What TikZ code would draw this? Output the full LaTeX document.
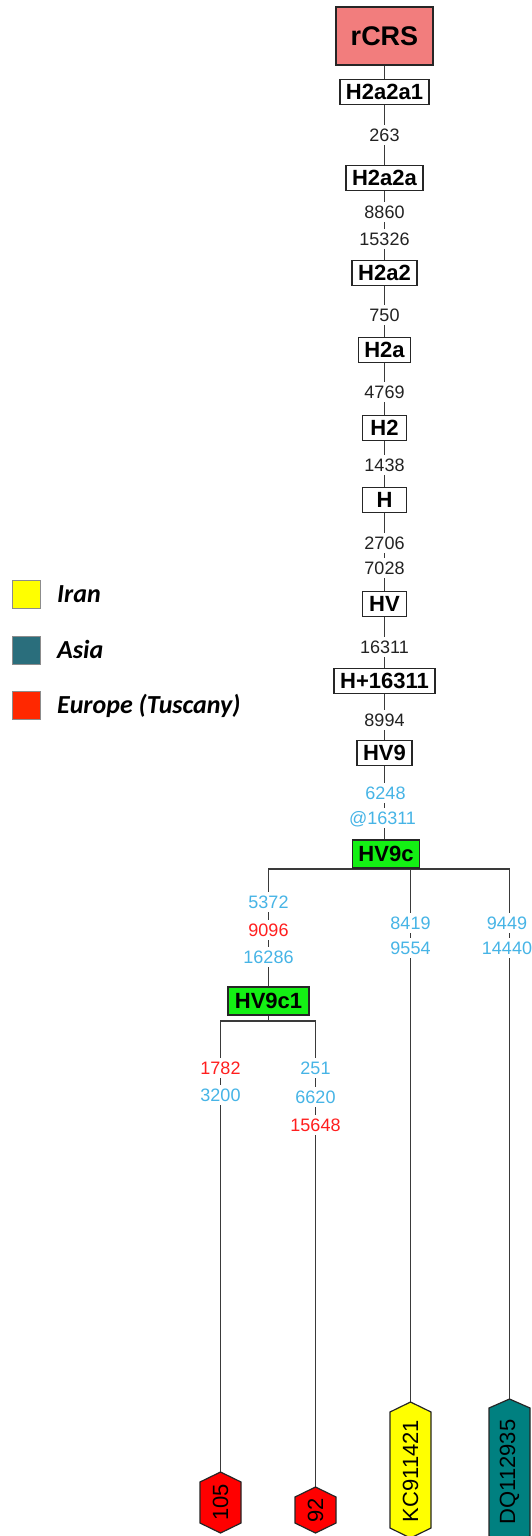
\documentclass[tikz,border=0pt]{standalone}
\usepackage{fontspec}
\setmainfont{Liberation Sans}
\newfontfamily\legfont{Carlito}
\usetikzlibrary{backgrounds,calc}

\definecolor{linec}{HTML}{3A3A3A}
\definecolor{mblue}{RGB}{70,180,230}
\definecolor{mred}{RGB}{255,30,30}
\definecolor{mblack}{HTML}{222222}
\definecolor{rcrsfill}{RGB}{242,125,125}
\definecolor{gfill}{RGB}{20,240,20}
\definecolor{hexred}{RGB}{255,0,0}
\definecolor{hexyel}{RGB}{255,255,0}
\definecolor{hexteal}{RGB}{0,128,128}
\definecolor{legyel}{RGB}{255,255,0}
\definecolor{legteal}{RGB}{42,110,124}
\definecolor{legred}{RGB}{255,40,0}

\newcommand\myhex[7]{% name, x, top, side top, side bottom, bottom, fill
  \filldraw[fill=#7, draw=black!85, line width=1.2pt]
    (#2,#3) -- (#2+20.5,#4) -- (#2+20.5,#5) -- (#2,#6) -- (#2-20.5,#5) -- (#2-20.5,#4) -- cycle;
  \coordinate (#1) at (#2,#3);
}

\begin{document}
\begin{tikzpicture}[x=1pt,y=-1pt,
  hbox/.style={draw=black!85, line width=1.6pt, fill=white,
    font=\fontsize{22}{24}\selectfont\bfseries,
    minimum height=25pt, minimum width=44pt, inner xsep=6pt, inner ysep=0pt},
  gbox/.style={hbox, fill=gfill, minimum height=28pt},
  mut/.style={fill=white, inner xsep=1pt, inner ysep=3.5pt, text height=13pt,
    text depth=0pt, font=\fontsize{18}{20}\selectfont},
  mk/.style={mut, text=mblack},
  mb/.style={mut, text=mblue},
  mr/.style={mut, text=mred},
  conn/.style={draw=linec, line width=1.5pt},
  hextext/.style={rotate=90, inner sep=0pt, font=\fontsize{22}{24}\selectfont, text=black},
  legsq/.style={draw=black!45, line width=0.8pt, minimum size=28pt, inner sep=0pt},
  legtxt/.style={anchor=base west, inner sep=0pt,
    font=\legfont\fontsize{26}{28}\selectfont\bfseries\itshape}
]
\useasboundingbox (0,0) rectangle (531,1536);

% haplogroup boxes
\node[hbox, fill=rcrsfill, font=\fontsize{27}{30}\selectfont\bfseries,
      minimum width=97pt, minimum height=58pt] (rcrs) at (384.5,36) {rCRS};
\node[hbox] (h2a2a1) at (384.5,92) {H2a2a1};
\node[hbox] (h2a2a) at (384.5,178) {H2a2a};
\node[hbox] (h2a2) at (384.5,273) {H2a2};
\node[hbox] (h2a) at (384.5,350) {H2a};
\node[hbox] (h2) at (384.5,428) {H2};
\node[hbox] (h) at (384.5,500) {H};
\node[hbox] (hv) at (384.5,604) {HV};
\node[hbox] (h16311) at (384.5,681) {H+16311};
\node[hbox] (hv9) at (384.5,753) {HV9};
\node[gbox] (hv9c) at (386,854) {HV9c};
\node[gbox, inner xsep=7pt] (hv9c1) at (268.5,1001) {HV9c1};

% tip hexagons
\myhex{t105}{220.5}{1472}{1482}{1523}{1533}{hexred}
\node[hextext] (n105) at (220.5,1502.5) {105};
\myhex{t92}{315.5}{1487}{1497}{1523}{1533}{hexred}
\node[hextext] (n92) at (315.5,1510) {92};
\myhex{tkc}{410.5}{1402}{1412}{1528}{1538}{hexyel}
\node[hextext] (nkc) at (410.5,1471) {KC911421};
\myhex{tdq}{509.5}{1399}{1408}{1536}{1545}{hexteal}
\node[hextext] (ndq) at (509.5,1472) {DQ112935};

\coordinate (j1) at ([yshift=-5pt]hv9c1.south);
\coordinate (j0) at (hv9c.south);

% connectors
\begin{scope}[on background layer]
\draw[conn] (rcrs) -- (h2a2a1) -- (h2a2a) -- (h2a2) -- (h2a) -- (h2) -- (h)
  -- (hv) -- (h16311) -- (hv9) -- (hv9.south |- hv9c.north);
\draw[conn] (hv9c.south) -| (hv9c1.north);
\draw[conn] (hv9c.south) -| (tkc);
\draw[conn] (hv9c.south) -| (tdq);
\draw[conn] (hv9c1.south) -- (j1) -| (t105);
\draw[conn] (j1) -| (t92);
\end{scope}

% mutations
\node[mk] (m263) at (384.5,135) {263};
\node[mk] (m8860) at (384.5,212) {8860};
\node[mk] (m15326) at (384.5,239) {15326};
\node[mk] (m750) at (384.5,315) {750};
\node[mk] (m4769) at (384.5,392) {4769};
\node[mk] (m1438) at (384.5,465) {1438};
\node[mk] (m2706) at (384.5,543) {2706};
\node[mk] (m7028) at (384.5,568) {7028};
\node[mk] (m16311) at (384.5,647) {16311};
\node[mk] (m8994) at (384.5,720) {8994};
\node[mb] (m6248) at (385.5,793) {6248};
\node[mb] (mat) at (382.5,818) {@16311};

\node[mb] (m5372) at (268.5,902) {5372};
\node[mr] (m9096) at (268.5,930) {9096};
\node[mb] (m16286) at (268.5,957) {16286};

\node[mb] (m8419) at (410.5,923) {8419};
\node[mb] (m9554) at (410.5,948) {9554};

\node[mb] (m9449) at (507,923) {9449};
\node[mb] (m14440) at (507,948) {14440};

\node[mr] (m1782) at (220.5,1068) {1782};
\node[mb] (m3200) at (220.5,1095) {3200};

\node[mb] (m251) at (315.5,1068) {251};
\node[mb] (m6620) at (315.5,1097) {6620};
\node[mr] (m15648) at (315.5,1125) {15648};

% legend
\node[legsq, fill=legyel] (sqiran) at (26,594) {};
\node[legtxt] (tiran) at (57,602.5) {Iran};
\node[legsq, fill=legteal] (sqasia) at (26,650) {};
\node[legtxt] (tasia) at (57,658.5) {Asia};
\node[legsq, fill=legred] (sqeur) at (26,705) {};
\node[legtxt] (teur) at (57,713.5) {Europe (Tuscany)};
\end{tikzpicture}
\end{document}
